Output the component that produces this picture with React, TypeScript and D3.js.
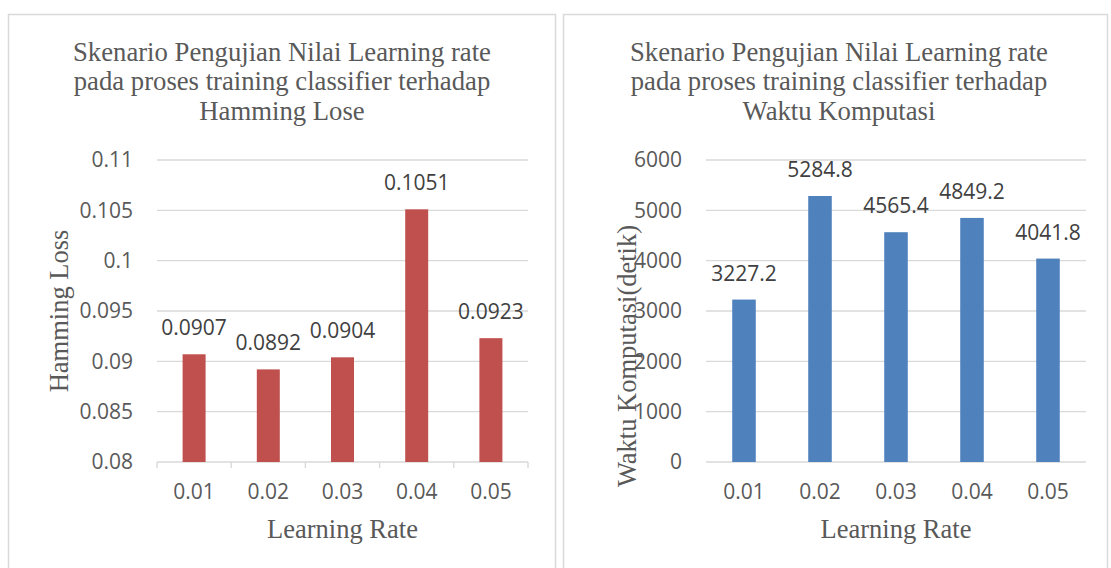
import React from "react";
import * as d3 from "d3";

const categories = ["0.01", "0.02", "0.03", "0.04", "0.05"];
const hammingLoss = [0.0907, 0.0892, 0.0904, 0.1051, 0.0923];
const waktuKomputasi = [3227.2, 5284.8, 4565.4, 4849.2, 4041.8];
const hammingTicks = [0.08, 0.085, 0.09, 0.095, 0.1, 0.105, 0.11];
const waktuTicks = [0, 1000, 2000, 3000, 4000, 5000, 6000];
const titleLeft = [
  "Skenario Pengujian Nilai Learning rate",
  "pada proses training classifier terhadap",
  "Hamming Lose",
];
const titleRight = [
  "Skenario Pengujian Nilai Learning rate",
  "pada proses training classifier terhadap",
  "Waktu Komputasi",
];

const SANS = "'Open Sans', sans-serif";
const SERIF = "'Liberation Serif', 'Times New Roman', serif";
const GRID = "#d9d9d9";
const TEXT = "#595959";
const LABEL = "#404040";

type PanelProps = {
  px: number;
  pw: number;
  x0: number;
  x1: number;
  yTop: number;
  yBot: number;
  domain: [number, number];
  ticks: number[];
  tickFmt: (v: number) => string;
  values: number[];
  color: string;
  title: string[];
  titleCx: number;
  yTitle: string;
  yTitleX: number;
  yTitleY: number;
  xTickMarks: boolean;
};

function Panel(p: PanelProps) {
  const x = d3
    .scaleBand<string>()
    .domain(categories)
    .range([p.x0, p.x1])
    .paddingInner(0.69)
    .paddingOuter(0.345);
  const y = d3.scaleLinear().domain(p.domain).range([p.yBot, p.yTop]);
  const step = (p.x1 - p.x0) / categories.length;
  const cx = (p.x0 + p.x1) / 2;
  return (
    <g>
      <rect
        x={p.px + 0.5}
        y={14.5}
        width={p.pw}
        height={600}
        fill="#fff"
        stroke={GRID}
        strokeWidth={1.5}
      />
      {p.title.map((t, i) => (
        <text
          key={i}
          x={p.titleCx}
          y={60.5 + i * 29.6}
          textAnchor="middle"
          fontFamily={SERIF}
          fontSize={26.7}
          fill={TEXT}
        >
          {t}
        </text>
      ))}
      {p.ticks.map((t) => (
        <g key={t}>
          <line
            x1={p.x0}
            x2={p.x1}
            y1={y(t)}
            y2={y(t)}
            stroke={GRID}
            strokeWidth={1.4}
          />
          <text
            x={p.x0 - 24}
            y={y(t)}
            dy="0.35em"
            textAnchor="end"
            fontFamily={SANS}
            fontSize={21}
            fill={TEXT}
          >
            {p.tickFmt(t)}
          </text>
        </g>
      ))}
      {p.xTickMarks &&
        d3.range(categories.length + 1).map((i) => (
          <line
            key={i}
            x1={p.x0 + i * step}
            x2={p.x0 + i * step}
            y1={p.yBot}
            y2={p.yBot + 6}
            stroke={GRID}
            strokeWidth={1.4}
          />
        ))}
      {categories.map((c, i) => (
        <g key={c}>
          <rect
            x={x(c)}
            y={y(p.values[i])}
            width={x.bandwidth()}
            height={p.yBot - y(p.values[i])}
            fill={p.color}
          />
          <text
            x={(x(c) as number) + x.bandwidth() / 2}
            y={y(p.values[i]) - 19}
            textAnchor="middle"
            fontFamily={SANS}
            fontSize={21}
            fill={LABEL}
          >
            {String(p.values[i])}
          </text>
          <text
            x={(x(c) as number) + x.bandwidth() / 2}
            y={p.yBot + 30}
            dy="0.35em"
            textAnchor="middle"
            fontFamily={SANS}
            fontSize={21}
            fill={TEXT}
          >
            {c}
          </text>
        </g>
      ))}
      <text
        x={cx}
        y={538}
        textAnchor="middle"
        fontFamily={SERIF}
        fontSize={26.5}
        fill={TEXT}
      >
        Learning Rate
      </text>
      <text
        transform={`translate(${p.yTitleX},${p.yTitleY}) rotate(-90)`}
        textAnchor="middle"
        fontFamily={SERIF}
        fontSize={26.5}
        fill={TEXT}
      >
        {p.yTitle}
      </text>
    </g>
  );
}

export default function App() {
  return (
    <svg
      width={1111}
      height={568}
      style={{ position: "absolute", left: 0, top: 0, background: "#fff" }}
    >
      <rect x={0} y={0} width={1111} height={568} fill="#fff" />
      <Panel
        px={8}
        pw={547}
        x0={157}
        x1={528}
        yTop={160}
        yBot={462}
        domain={[0.08, 0.11]}
        ticks={hammingTicks}
        tickFmt={(v) => String(+v.toFixed(3))}
        values={hammingLoss}
        color="#C0504D"
        title={titleLeft}
        titleCx={282}
        yTitle="Hamming Loss"
        yTitleX={68}
        yTitleY={311}
        xTickMarks={true}
      />
      <Panel
        px={563}
        pw={544}
        x0={706}
        x1={1086}
        yTop={160}
        yBot={462}
        domain={[0, 6000]}
        ticks={waktuTicks}
        tickFmt={(v) => String(v)}
        values={waktuKomputasi}
        color="#4F81BD"
        title={titleRight}
        titleCx={839}
        yTitle="Waktu Komputasi(detik)"
        yTitleX={636}
        yTitleY={356}
        xTickMarks={false}
      />
    </svg>
  );
}
